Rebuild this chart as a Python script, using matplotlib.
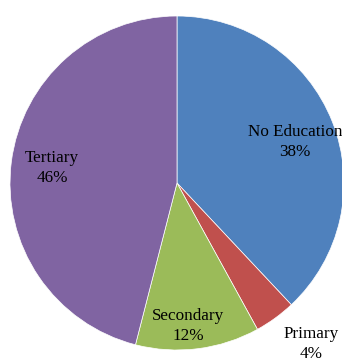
import matplotlib
matplotlib.use("Agg")
import matplotlib.pyplot as plt

categories = ["No Education", "Primary", "Secondary", "Tertiary"]
values = [38, 4, 12, 46]
pct_labels = ["38%", "4%", "12%", "46%"]
colors = ["#4F81BD", "#C0504D", "#9BBB59", "#8064A2"]

W, H = 342, 358
fig = plt.figure(figsize=(W / 100, H / 100), dpi=100)
ax = fig.add_axes([0, 0, 1, 1])
cx, cy, R = 177, 183, 167
ax.pie(values, colors=colors, startangle=90, counterclock=False,
       radius=R, center=(cx, H - cy),
       wedgeprops=dict(edgecolor="white", linewidth=0.5))
ax.set_xlim(0, W)
ax.set_ylim(0, H)
ax.set_aspect("auto")
ax.axis("off")

label_pos = [(295, 142), (311, 344), (188, 326), (52, 168)]
for name, pct, (x, y) in zip(categories, pct_labels, label_pos):
    ax.text(x, H - y, f"{name}\n{pct}", ha="center", va="center",
            fontsize=12.3, family="Liberation Serif", linespacing=1.35, color="black")

fig.savefig("out.png", dpi=100)
